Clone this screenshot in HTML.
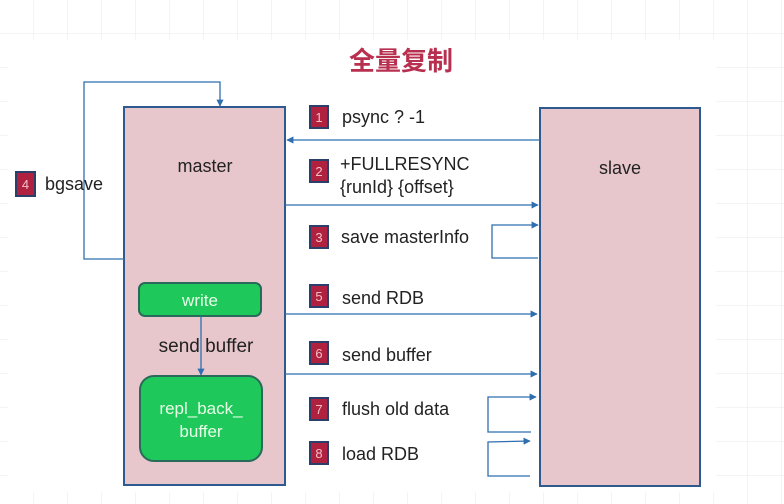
<!DOCTYPE html>
<html><head><meta charset="utf-8"><style>
html,body{margin:0;padding:0;background:#fff;}
svg{display:block;}
text{font-family:"Liberation Sans","Noto Sans CJK SC",sans-serif;}
</style></head><body>
<svg width="784" height="504" viewBox="0 0 784 504" xmlns="http://www.w3.org/2000/svg">
<defs>
<pattern id="g" width="34" height="34" patternUnits="userSpaceOnUse">
<path d="M34 0V34M0 34H34" fill="none" stroke="#e8e8e8" stroke-width="1"/>
</pattern>
<marker id="a" viewBox="0 0 10 10" refX="9" refY="5" markerWidth="5.5" markerHeight="5.5" orient="auto"><path d="M0 0L10 5L0 10z" fill="#2f6fb0"/></marker>
</defs>
<rect width="784" height="504" fill="#fff"/>
<rect width="784" height="504" fill="url(#g)"/>
<rect x="8" y="40" width="708" height="452" fill="#fff"/>
<text x="401" y="70" text-anchor="middle" font-size="26" font-weight="bold" fill="#b8304f">全量复制</text>

<rect x="124" y="107" width="161" height="378" fill="#e7c7cc" stroke="#2f5a8f" stroke-width="2"/>
<rect x="540" y="108" width="160" height="378" fill="#e7c7cc" stroke="#2f5a8f" stroke-width="2"/>
<text x="205" y="172" text-anchor="middle" font-size="18" fill="#222">master</text>
<text x="620" y="174" text-anchor="middle" font-size="18" fill="#222">slave</text>

<rect x="139" y="283" width="122" height="33" rx="6" fill="#1fc85a" stroke="#2a6a5a" stroke-width="2"/>
<text x="200" y="306" text-anchor="middle" font-size="17" fill="#e8ffe8">write</text>
<rect x="140" y="376" width="122" height="85" rx="14" fill="#1fc85a" stroke="#2a6a5a" stroke-width="2"/>
<text x="201" y="414" text-anchor="middle" font-size="17" fill="#e8ffe8">repl_back_</text>
<text x="201" y="437" text-anchor="middle" font-size="17" fill="#e8ffe8">buffer</text>
<line x1="201" y1="316" x2="201" y2="375" stroke="#2f6fb0" stroke-width="1.3" marker-end="url(#a)"/>
<text x="206" y="352" text-anchor="middle" font-size="19" fill="#222">send buffer</text>

<polyline points="124,259 84,259 84,82 220,82 220,106" fill="none" stroke="#2f6fb0" stroke-width="1.3" marker-end="url(#a)"/>

<g stroke="#2f6fb0" stroke-width="1.3" fill="none">
<line x1="540" y1="140" x2="287" y2="140" marker-end="url(#a)"/>
<line x1="285" y1="205" x2="538" y2="205" marker-end="url(#a)"/>
<polyline points="538,258 492,258 492,225 538,225" marker-end="url(#a)"/>
<line x1="285" y1="314" x2="537" y2="314" marker-end="url(#a)"/>
<line x1="285" y1="374" x2="537" y2="374" marker-end="url(#a)"/>
<polyline points="531,432 488,432 488,397 536,397" marker-end="url(#a)"/>
<polyline points="530,476 488,476 488,442 530,441" marker-end="url(#a)"/>
</g>

<g font-size="13" fill="#f3c0c8" text-anchor="middle">
<rect x="16" y="172" width="19" height="24" fill="#b0213f" stroke="#2a3f6a" stroke-width="2"/><text x="25.5" y="189">4</text>
<rect x="310" y="106" width="18" height="22" fill="#b0213f" stroke="#2a3f6a" stroke-width="2"/><text x="319" y="122">1</text>
<rect x="310" y="160" width="18" height="22" fill="#b0213f" stroke="#2a3f6a" stroke-width="2"/><text x="319" y="176">2</text>
<rect x="310" y="226" width="18" height="22" fill="#b0213f" stroke="#2a3f6a" stroke-width="2"/><text x="319" y="242">3</text>
<rect x="310" y="285" width="18" height="22" fill="#b0213f" stroke="#2a3f6a" stroke-width="2"/><text x="319" y="301">5</text>
<rect x="310" y="342" width="18" height="22" fill="#b0213f" stroke="#2a3f6a" stroke-width="2"/><text x="319" y="358">6</text>
<rect x="310" y="398" width="18" height="22" fill="#b0213f" stroke="#2a3f6a" stroke-width="2"/><text x="319" y="414">7</text>
<rect x="310" y="442" width="18" height="22" fill="#b0213f" stroke="#2a3f6a" stroke-width="2"/><text x="319" y="458">8</text>
</g>
<g font-size="18" fill="#222">
<text x="45" y="190">bgsave</text>
<text x="342" y="123">psync ? -1</text>
<text x="340" y="170">+FULLRESYNC</text>
<text x="340" y="193">{runId} {offset}</text>
<text x="341" y="243">save masterInfo</text>
<text x="342" y="304">send RDB</text>
<text x="342" y="361">send buffer</text>
<text x="342" y="415">flush old data</text>
<text x="342" y="460">load RDB</text>
</g>
</svg>
</body></html>
